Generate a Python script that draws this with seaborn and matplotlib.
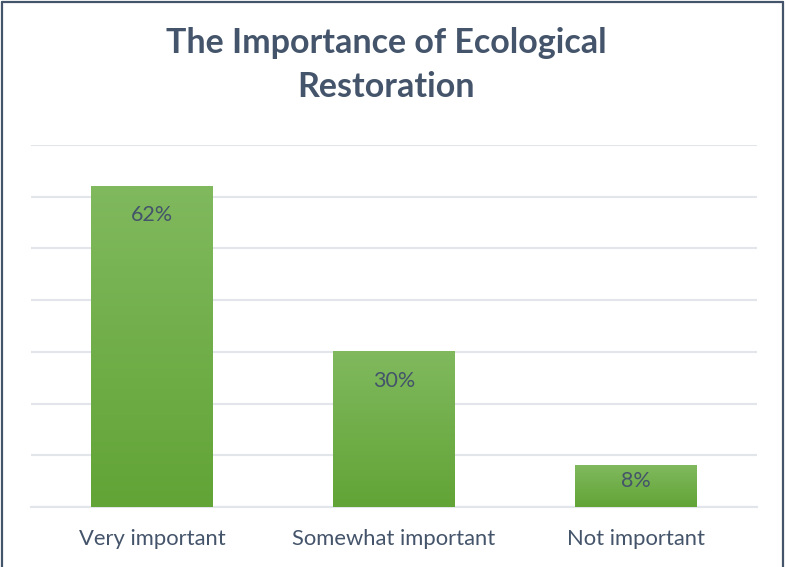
import numpy as np
import pandas as pd
import seaborn as sns
import matplotlib.pyplot as plt
from matplotlib.colors import LinearSegmentedColormap
from matplotlib.lines import Line2D

# Survey results
categories = ['Very important', 'Somewhat important', 'Not important']
values = [62, 30, 8]
labels = ['62%', '30%', '8%']

df = pd.DataFrame({'category': categories, 'value': values})

sns.set_theme(style='white')
plt.rcParams['font.family'] = ['Lato', 'DejaVu Sans']

slate = '#44546A'
grid_col = '#E2E5EA'

fig = plt.figure(figsize=(7.86, 5.67), dpi=100)
ax = fig.add_axes([0.0394, 0.1058, 0.9237, 0.6384])

sns.barplot(data=df, x='category', y='value', color='#70AD47', width=0.5,
            ax=ax, zorder=3)

# gradient fill on each bar, like the Excel default
green = LinearSegmentedColormap.from_list('g', ['#62A436', '#80B95E'])
grad = np.linspace(0, 1, 256).reshape(-1, 1)
for p in ax.patches:
    x0, w, h = p.get_x(), p.get_width(), p.get_height()
    ax.imshow(grad, cmap=green, origin='lower', aspect='auto',
              extent=[x0, x0 + w, 0, h], zorder=3.5)
    p.set_alpha(0)

ax.set_xlim(-0.5, 2.5)
ax.set_ylim(0, 70)
ax.set_yticks(np.arange(0, 71, 10))
ax.yaxis.grid(True, color=grid_col, linewidth=1.5, zorder=0)
ax.set_axisbelow(True)
ax.tick_params(axis='y', left=False, labelleft=False)
ax.tick_params(axis='x', bottom=False, labelsize=15.8, labelcolor=slate, pad=10)
ax.set_xlabel('')
ax.set_ylabel('')
for s in ['top', 'right', 'left']:
    ax.spines[s].set_visible(False)
ax.spines['bottom'].set_color(grid_col)
ax.spines['bottom'].set_linewidth(1.5)

# data labels inside the bar tops
for i, (v, t) in enumerate(zip(values, labels)):
    ax.text(i, v - min(5.6, 0.375 * v), t, ha='center', va='center',
            fontsize=15.5, color=slate, zorder=5)

fig.text(0.491, 0.885, 'The Importance of Ecological\nRestoration',
         ha='center', va='center', fontsize=24.5, fontweight='bold',
         color=slate, linespacing=1.47)

# chart border
for xs, ys in [([0.002, 0.002], [0, 0.997]), ([0.002, 0.996], [0.997, 0.997]),
               ([0.996, 0.996], [0, 0.997])]:
    fig.add_artist(Line2D(xs, ys, transform=fig.transFigure, color=slate,
                          linewidth=1.6))

fig.savefig('out.png', dpi=100)
